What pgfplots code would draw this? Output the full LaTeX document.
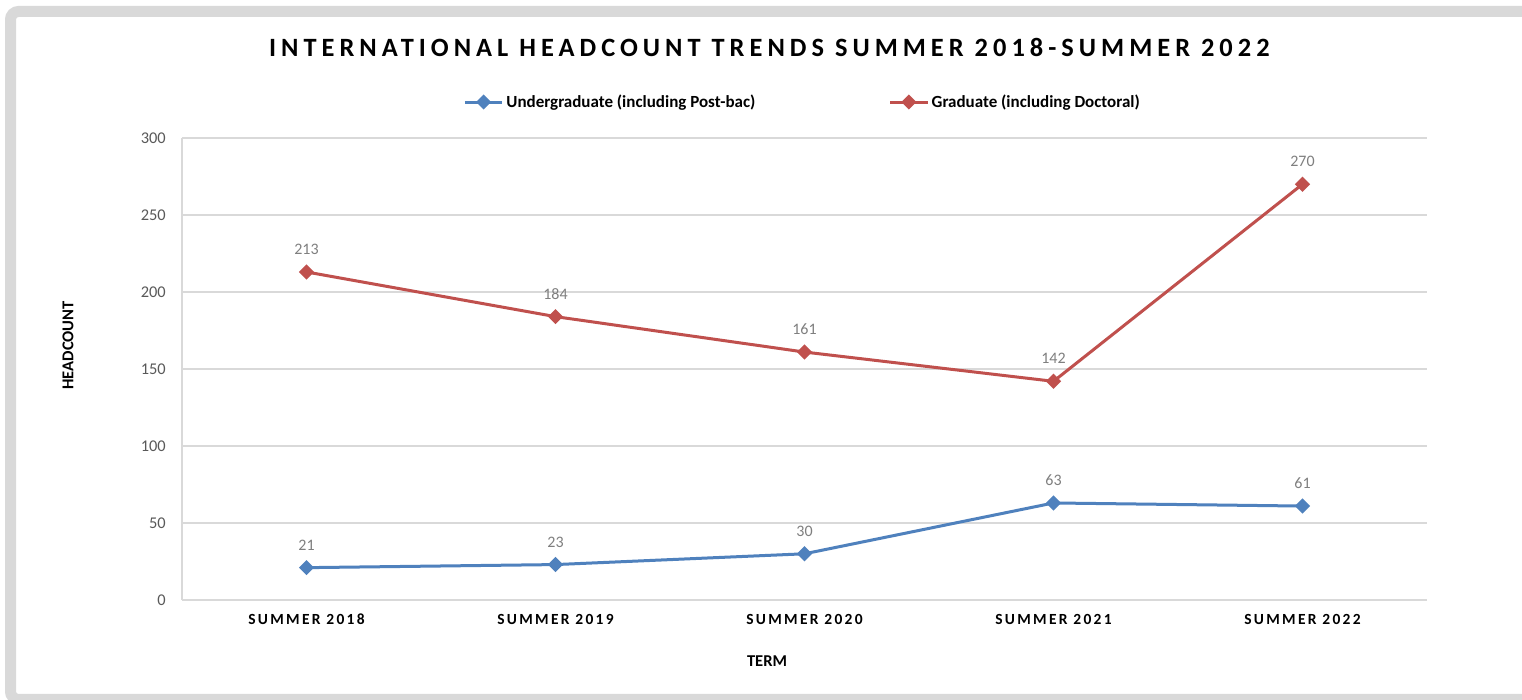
\documentclass[border=0pt]{standalone}
\usepackage{fontspec}
\setmainfont{Carlito}
\newfontfamily\spaced[LetterSpace=19]{Carlito}
\newfontfamily\spacedx[LetterSpace=15]{Carlito}
\usepackage{pgfplots}
\pgfplotsset{compat=1.18}
\definecolor{ublue}{HTML}{4F81BD}
\definecolor{gred}{HTML}{C0504D}
\definecolor{gridc}{HTML}{D9D9D9}
\definecolor{tickc}{HTML}{595959}
\definecolor{labc}{HTML}{7F7F7F}
\definecolor{framec}{HTML}{D9D9D9}
\begin{document}
\begin{tikzpicture}
\useasboundingbox (0,0) rectangle (1141.5pt,525pt);
\fill[white] (0,0) rectangle (1141.5pt,525pt);
\begin{scope}
\clip (0,0) rectangle (1141.5pt,525pt);
\draw[framec, line width=8.25pt, rounded corners=6pt] (7.875pt,516.375pt) rectangle (1160pt,0.375pt);
\end{scope}
\begin{axis}[
  at={(136.5pt,75pt)}, anchor=south west,
  scale only axis, width=933.75pt, height=346.5pt,
  xmin=-0.5, xmax=4.5, ymin=0, ymax=300,
  xtick={0,1,2,3,4},
  xticklabels={SUMMER 2018,SUMMER 2019,SUMMER 2020,SUMMER 2021,SUMMER 2022},
  ytick={0,50,100,150,200,250,300},
  axis x line=bottom, axis y line=left,
  axis line style={-, draw=gridc, line width=1pt},
  ymajorgrids, grid style={draw=gridc, line width=0.9pt},
  major tick length=0pt,
  yticklabel style={font=\fontsize{12.3}{14}\selectfont, color=tickc, anchor=east, inner sep=0pt, xshift=-12pt},
  /pgf/number format/assume math mode=true,
  xticklabel style={font=\spacedx\bfseries\fontsize{11.6}{13}\selectfont, color=black, anchor=base, yshift=-18.75pt},
  legend style={at={(0.4988,1.0779)}, anchor=center, draw=none, fill=none,
     font=\bfseries\fontsize{12.75}{14}\selectfont, legend columns=2,
     /tikz/every even column/.append style={column sep=98pt}},
  legend cell align=left,
  legend image code/.code={\draw[mark repeat=2,mark phase=2,#1] plot coordinates {(0pt,0pt) (14pt,0pt) (28pt,0pt)};},
  nodes near coords,
  every node near coord/.append style={font=\fontsize{12}{14}\selectfont, color=labc, anchor=center, yshift=17pt},
]
\addplot[color=ublue, line width=2.25pt, mark=square*, mark size=2.9pt, mark options={rotate=45, solid, fill=ublue}]
  coordinates {(0,21) (1,23) (2,30) (3,63) (4,61)};
\addlegendentry{Undergraduate (including Post-bac)}
\addplot[color=gred, line width=2.25pt, mark=square*, mark size=2.9pt, mark options={rotate=45, solid, fill=gred}]
  coordinates {(0,213) (1,184) (2,161) (3,142) (4,270)};
\addlegendentry{Graduate (including Doctoral)}
\end{axis}
\node[font=\spaced\bfseries\fontsize{19.8}{22}\selectfont] at (577pt,489.75pt) {INTERNATIONAL HEADCOUNT TRENDS SUMMER 2018-SUMMER 2022};
\node[rotate=90, font=\bfseries\fontsize{12.4}{14}\selectfont] at (51pt,265.9pt) {HEADCOUNT};
\node[font=\bfseries\fontsize{12.4}{14}\selectfont] at (575.25pt,29.25pt) {TERM};
\end{tikzpicture}
\end{document}
